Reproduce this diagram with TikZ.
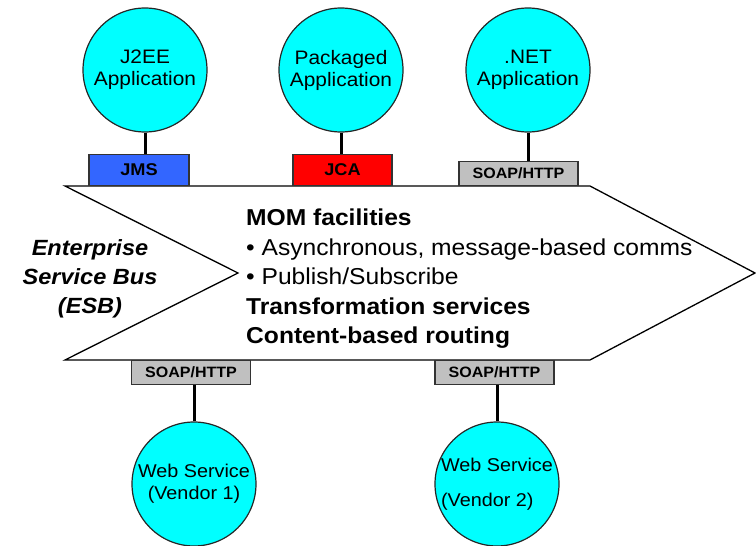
\documentclass[tikz,border=0pt]{standalone}
\usepackage{fontspec}
\setmainfont[FakeStretch=1.07]{Liberation Sans}
\usetikzlibrary{positioning}
\definecolor{appcyan}{RGB}{0,255,255}
\definecolor{jmsblue}{RGB}{51,102,255}
\definecolor{jcared}{RGB}{255,0,0}
\definecolor{soapgray}{RGB}{192,192,192}
\tikzset{
  app/.style={circle, draw=black!85, line width=1.2pt, fill=appcyan, minimum size=124pt,
    inner sep=0pt, align=center, font=\fontsize{19.5}{22}\selectfont},
  port/.style={draw=black!80, line width=1.2pt, minimum height=31pt, minimum width=100pt,
    inner sep=0pt, anchor=south, font=\bfseries\fontsize{17}{17}\selectfont},
  soap/.style={port, fill=soapgray, minimum height=24pt, minimum width=119pt,
    font=\bfseries\fontsize{15}{15}\selectfont},
  link/.style={line width=3pt}
}

\begin{document}
\begin{tikzpicture}[x=1pt, y=-1pt]
\useasboundingbox (0,0) rectangle (756,546);
\coordinate (tl) at (65,186);
\coordinate (tr) at (590,186);
\coordinate (tip) at (755,273);
\coordinate (br) at (590,360);
\coordinate (bl) at (65,360);
\coordinate (notch) at (238,273);

\draw[line width=1.3pt, fill=white] (tl) -- (tr) -- (tip) -- (br) -- (bl) -- (notch) -- cycle;

\node[app] (j2ee) at (145,70) {J2EE\\Application};
\node[app] (pkg) at (341,70) {Packaged\\Application};
\node[app] (net) at (528,70) {.NET\\Application};

\node[port, fill=jmsblue] (jms) at (139,186) {JMS};
\node[port, fill=jcared, minimum width=99pt] (jca) at (342.5,186) {JCA};
\node[soap] (soap1) at (518.5,186) {SOAP/HTTP};

\node[soap, anchor=north] (soap2) at (191,360) {SOAP/HTTP};
\node[soap, anchor=north] (soap3) at (494.5,360) {SOAP/HTTP};

\node[app, font=\fontsize{18.5}{22}\selectfont] (web1) at (194,484) {Web Service\\(Vendor 1)};
\node[app, font=\fontsize{18.5}{35}\selectfont, align=left] (web2) at (497,484) {Web Service\\(Vendor 2)};

\draw[link] (j2ee.south) -- (j2ee.south |- jms.north);
\draw[link] (pkg.south) -- (pkg.south |- jca.north);
\draw[link] (net.south) -- (net.south |- soap1.north);
\draw[link] (web1.north) -- (web1.north |- soap2.south);
\draw[link] (web2.north) -- (web2.north |- soap3.south);

\node[align=center, font=\bfseries\itshape\fontsize{22}{29}\selectfont] (esb) at (90,279)
  {Enterprise\\Service Bus\\(ESB)};
\node[anchor=north west, inner sep=0pt, align=left, font=\fontsize{23}{29.5}\selectfont] (features) at (246,209)
  {\textbf{MOM facilities}\\
   • Asynchronous, message-based comms\\
   • Publish/Subscribe\\
   \textbf{Transformation services}\\
   \textbf{Content-based routing}};
\end{tikzpicture}
\end{document}
